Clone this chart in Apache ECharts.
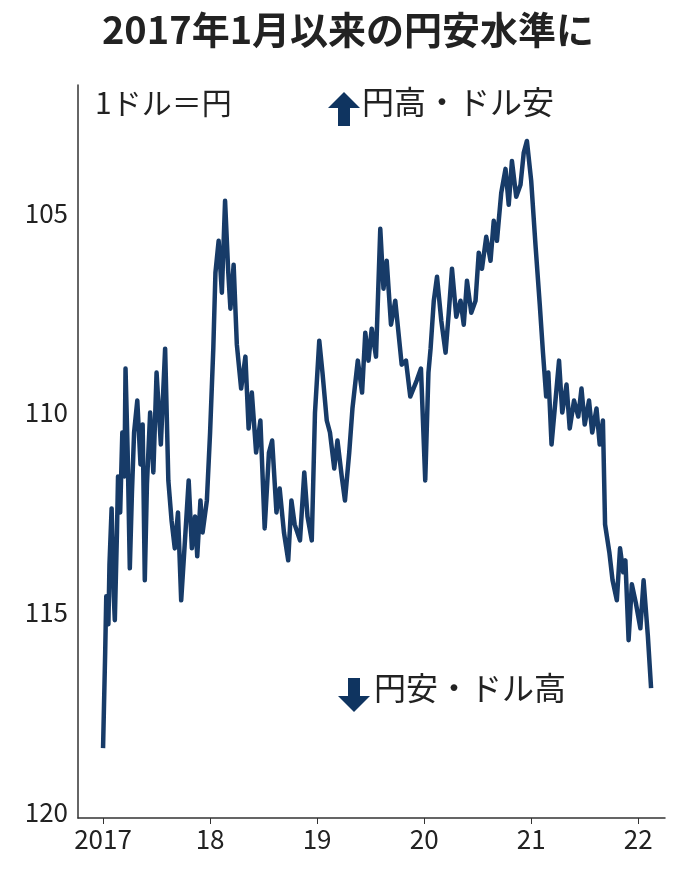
<!DOCTYPE html>
<html><head><meta charset="utf-8">
<script src="https://cdn.jsdelivr.net/npm/echarts@6/dist/echarts.min.js"></script>
<style>html,body{margin:0;background:#fff}#c{width:696px;height:882px}</style>
</head><body><div id="c"></div>
<script>
const title = '2017年1月以来の円安水準に';
const yTicks = [105, 110, 115, 120];
const xTicks = [2017, 2018, 2019, 2020, 2021, 2022];
const xLabels = ['2017', '18', '19', '20', '21', '22'];
const years = [2017.00,2017.02,2017.03,2017.05,2017.06,2017.08,2017.10,2017.11,2017.13,2017.14,2017.16,2017.18,2017.20,2017.21,2017.23,2017.25,2017.27,2017.29,2017.32,2017.35,2017.37,2017.39,2017.41,2017.44,2017.47,2017.50,2017.54,2017.58,2017.61,2017.64,2017.67,2017.70,2017.73,2017.77,2017.80,2017.83,2017.86,2017.88,2017.91,2017.93,2017.97,2018.00,2018.03,2018.05,2018.08,2018.11,2018.14,2018.17,2018.19,2018.22,2018.25,2018.29,2018.33,2018.36,2018.39,2018.43,2018.47,2018.51,2018.55,2018.58,2018.62,2018.65,2018.69,2018.73,2018.76,2018.79,2018.84,2018.88,2018.91,2018.95,2018.98,2019.02,2019.05,2019.09,2019.12,2019.16,2019.19,2019.23,2019.26,2019.30,2019.33,2019.38,2019.42,2019.45,2019.48,2019.51,2019.55,2019.59,2019.62,2019.65,2019.69,2019.73,2019.79,2019.83,2019.87,2019.93,2019.97,2020.01,2020.04,2020.06,2020.09,2020.12,2020.16,2020.20,2020.23,2020.26,2020.30,2020.34,2020.37,2020.40,2020.44,2020.48,2020.51,2020.54,2020.58,2020.62,2020.65,2020.68,2020.72,2020.76,2020.79,2020.82,2020.86,2020.90,2020.93,2020.96,2021.00,2021.04,2021.08,2021.11,2021.14,2021.16,2021.19,2021.22,2021.26,2021.29,2021.33,2021.36,2021.40,2021.44,2021.47,2021.50,2021.54,2021.57,2021.61,2021.64,2021.67,2021.69,2021.73,2021.76,2021.80,2021.83,2021.86,2021.88,2021.91,2021.94,2021.98,2022.02,2022.05,2022.09,2022.12,2022.14];
const usdjpy = [118.4,116.0,114.6,115.3,113.8,112.4,114.6,115.2,113.0,111.6,112.5,110.5,111.6,108.9,111.0,113.9,112.0,110.5,109.7,111.3,110.3,114.2,111.8,110.0,111.5,109.0,110.8,108.4,111.7,112.7,113.4,112.5,114.7,113.0,111.7,113.4,112.6,113.6,112.2,113.0,112.2,110.5,108.4,106.5,105.7,107.0,104.7,106.5,107.4,106.3,108.3,109.4,108.6,110.4,109.5,111.0,110.2,112.9,111.0,110.7,112.5,111.9,113.0,113.7,112.2,112.8,113.2,111.5,112.6,113.2,110.0,108.2,109.0,110.2,110.5,111.4,110.7,111.6,112.2,111.0,109.9,108.7,109.5,108.0,108.7,107.9,108.6,105.4,106.9,106.2,107.8,107.2,108.8,108.7,109.6,109.2,108.9,111.7,109.0,108.4,107.2,106.6,107.7,108.5,107.5,106.4,107.6,107.2,107.8,106.7,107.5,107.2,106.0,106.4,105.6,106.2,105.2,105.7,104.5,103.9,104.8,103.7,104.6,104.3,103.5,103.2,104.2,105.8,107.3,108.5,109.6,109.0,110.8,109.9,108.7,110.0,109.3,110.4,109.7,110.1,109.4,110.3,109.7,110.5,109.9,110.8,110.2,112.8,113.5,114.2,114.7,113.4,114.0,113.7,115.7,114.3,114.8,115.4,114.2,115.6,116.9];

const chart = echarts.init(document.getElementById('c'));
const font = '"Noto Sans CJK JP", "Noto Sans", sans-serif';
const arrow = (x, y, up) => ({
  type: 'polygon', left: x, top: y,
  shape: { points: up ? [[14,0],[30,16],[20,16],[20,34],[8,34],[8,16],[-2,16]]
                     : [[8,0],[20,0],[20,18],[30,18],[14,34],[-2,18],[8,18]] },
  style: { fill: '#0f3460' }
});
chart.setOption({
  animation: false,
  title: { text: title, left: 'center', top: 6,
    textStyle: { fontFamily: font, fontSize: 38, fontWeight: 'bold', color: '#222' } },
  grid: { left: 78, right: 31, top: 85, bottom: 64 },
  xAxis: { type: 'value', min: 2016.766, max: 2022.25,
    splitLine: { show: false },
    axisLine: { lineStyle: { color: '#333', width: 1.5 } },
    axisTick: { customValues: xTicks, length: 6, lineStyle: { color: '#333' } },
    axisLabel: { customValues: xTicks, color: '#222', fontSize: 26, fontFamily: font, margin: 8,
      formatter: v => xLabels[xTicks.indexOf(Math.round(v))] } },
  yAxis: { type: 'value', inverse: true, min: 101.8, max: 120.15,
    splitLine: { show: false },
    axisLine: { show: true, lineStyle: { color: '#333', width: 1.5 } },
    axisTick: { show: false },
    axisLabel: { customValues: yTicks, color: '#222', fontSize: 26, fontFamily: font, margin: 10 } },
  series: [{ type: 'line', data: years.map((y, i) => [y, usdjpy[i]]), showSymbol: false,
    lineStyle: { color: '#173b68', width: 4.5, join: 'round' } }],
  graphic: [
    { type: 'text', left: 95, top: 88, style: { text: '1ドル＝円', fontSize: 30, fontFamily: font, fill: '#222' } },
    arrow(328, 92, true),
    { type: 'text', left: 362, top: 86, style: { text: '円高・ドル安', fontSize: 32, fontFamily: font, fill: '#222' } },
    arrow(338, 678, false),
    { type: 'text', left: 374, top: 672, style: { text: '円安・ドル高', fontSize: 32, fontFamily: font, fill: '#222' } }
  ]
});
</script></body></html>
